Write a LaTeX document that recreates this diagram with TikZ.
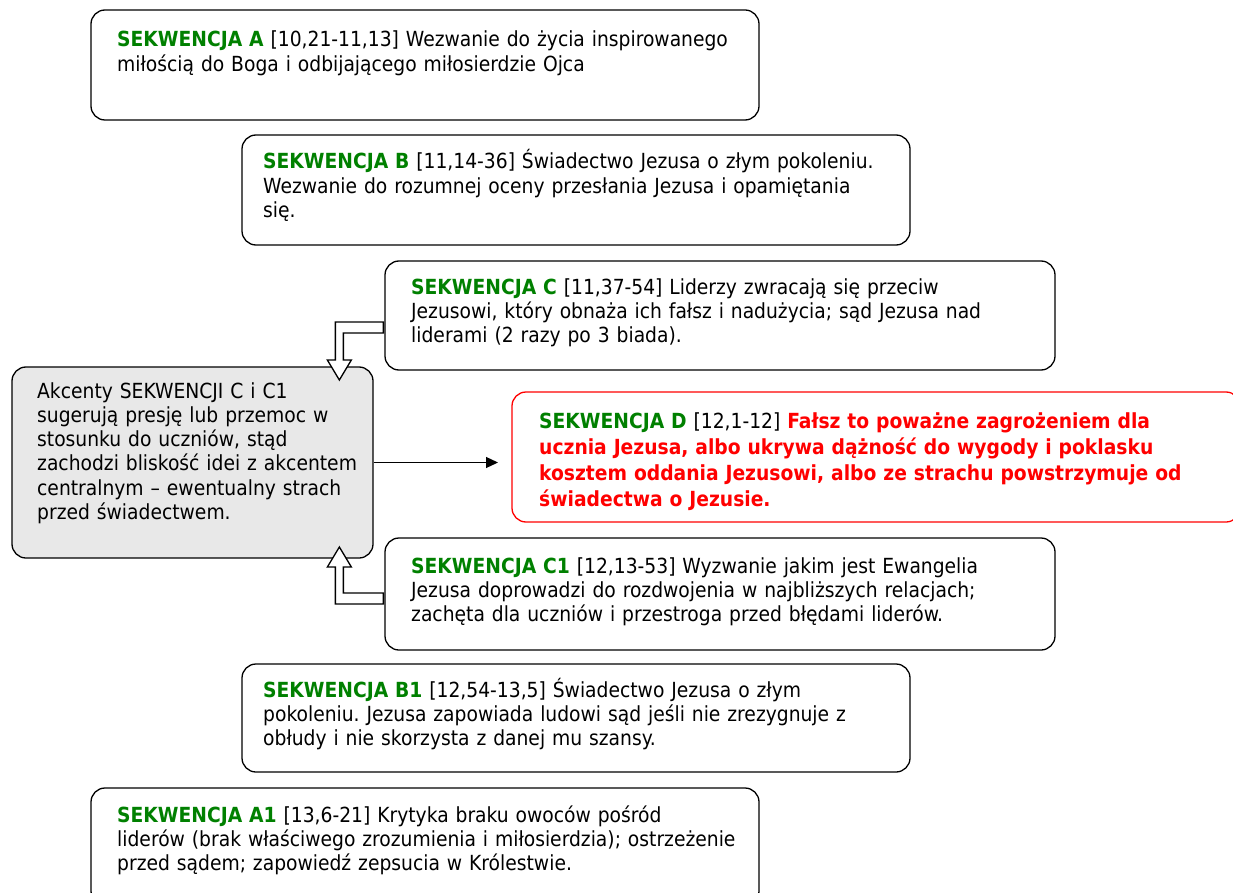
\documentclass[tikz,border=0pt]{standalone}
\usepackage{fontspec}
\setmainfont{DejaVu Sans Condensed}
\usetikzlibrary{arrows.meta}
\definecolor{seqgreen}{RGB}{0,128,0}
\definecolor{seqred}{RGB}{255,0,0}
\definecolor{notegray}{RGB}{232,232,232}
\newcommand{\seqname}[1]{\textbf{\color{seqgreen}SEKWENCJA #1}}
\newcommand{\seqalert}[1]{\textbf{\color{seqred}#1}}
\frenchspacing
\tikzset{
	seqbox/.style={draw,line width=1.3pt,rounded corners=14pt,inner sep=0pt},
	seqtext/.style={anchor=base west,inner sep=0pt,align=left,text width=760pt,font=\fontsize{20.8}{24.3}\selectfont},
	blockarrow/.style={draw,line width=1.3pt,fill=white,line join=miter}
}
\begin{document}
\begin{tikzpicture}[x=1pt,y=-1pt]
	\useasboundingbox (0,0) rectangle (1233,893);
	\node[seqbox,minimum width=668pt,minimum height=110pt] (seqa) at (425,65) {};
	\node[seqbox,minimum width=668pt,minimum height=110pt] (seqb) at (576,190) {};
	\node[seqbox,minimum width=670pt,minimum height=109pt] (seqc) at (720,315.5) {};
	\node[seqbox,fill=notegray,minimum width=361pt,minimum height=191pt] (note) at (192.5,462.5) {};
	\node[seqbox,draw=seqred,minimum width=728pt,minimum height=130pt] (seqd) at (876,457) {};
	\node[seqbox,minimum width=670pt,minimum height=112pt] (seqc1) at (720,594) {};
	\node[seqbox,minimum width=668pt,minimum height=108pt] (seqb1) at (576,718) {};
	\node[seqbox,minimum width=668pt,minimum height=117pt] (seqa1) at (425,846.5) {};

	\node[seqtext] (seqa-t) at (117,47) {\seqname{A} [10,21-11,13] Wezwanie do życia inspirowanego\\miłością do Boga i odbijającego miłosierdzie Ojca};
	\node[seqtext] (seqb-t) at (263,169) {\seqname{B} [11,14-36] Świadectwo Jezusa o złym pokoleniu.\\Wezwanie do rozumnej oceny przesłania Jezusa i opamiętania\\się.};
	\node[seqtext] (seqc-t) at (411,294) {\seqname{C} [11,37-54] Liderzy zwracają się przeciw\\Jezusowi, który obnaża ich fałsz i nadużycia; sąd Jezusa nad\\liderami (2 razy po 3 biada).};
	\node[seqtext] (note-t) at (37,398) {Akcenty SEKWENCJI C i C1\\sugerują presję lub przemoc w\\stosunku do uczniów, stąd\\zachodzi bliskość idei z akcentem\\centralnym – ewentualny strach\\przed świadectwem.};
	\node[seqtext,font=\fontsize{20.8}{26}\selectfont] (seqd-t) at (539,428) {\seqname{D} [12,1-12] \seqalert{Fałsz to poważne zagrożeniem dla}\\\seqalert{ucznia Jezusa, albo ukrywa dążność do wygody i poklasku}\\\seqalert{kosztem oddania Jezusowi, albo ze strachu powstrzymuje od}\\\seqalert{świadectwa o Jezusie.}};
	\node[seqtext] (seqc1-t) at (411,573) {\seqname{C1} [12,13-53] Wyzwanie jakim jest Ewangelia\\Jezusa doprowadzi do rozdwojenia w najbliższych relacjach;\\zachęta dla uczniów i przestroga przed błędami liderów.};
	\node[seqtext] (seqb1-t) at (263,697) {\seqname{B1} [12,54-13,5] Świadectwo Jezusa o złym\\pokoleniu. Jezusa zapowiada ludowi sąd jeśli nie zrezygnuje z\\obłudy i nie skorzysta z danej mu szansy.};
	\node[seqtext] (seqa1-t) at (117,822) {\seqname{A1} [13,6-21] Krytyka braku owoców pośród\\liderów (brak właściwego zrozumienia i miłosierdzia); ostrzeżenie\\przed sądem; zapowiedź zepsucia w Królestwie.};

	\coordinate (dtip) at (498,462.5);
	\draw[line width=1.2pt,-{Triangle[length=12pt,width=11pt]}] (note) -- (dtip);
	\draw[blockarrow] ([shift={(-1,6.5)}]seqc.west) -- ++(-48,0) -- ++(0,38) -- ++(-8,0) -- ++(12,20) -- ++(12,-20) -- ++(-8,0) -- ++(0,-27) -- ++(40,0) -- cycle;
	\draw[blockarrow] ([shift={(-1,10)}]seqc1.west) -- ++(-48,0) -- ++(0,-37) -- ++(-8,0) -- ++(12,-20) -- ++(12,20) -- ++(-8,0) -- ++(0,26) -- ++(40,0) -- cycle;
\end{tikzpicture}
\end{document}
